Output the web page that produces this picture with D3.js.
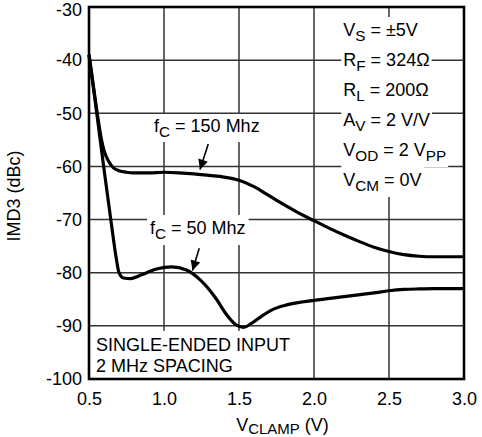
<!DOCTYPE html>
<html>
<head>
<meta charset="utf-8">
<script src="https://cdn.jsdelivr.net/npm/d3@7"></script>
<style>
  body { margin: 0; background: #fff; }
  text { font-family: "Liberation Sans", Arial, sans-serif; fill: #000; }
</style>
</head>
<body>
<div id="chart"></div>
<script>
const xTicks = [0.5, 1.0, 1.5, 2.0, 2.5, 3.0];
const yTicks = [-100, -90, -80, -70, -60, -50, -40, -30];

// fc = 150 MHz
const vclamp150 = [0.5, 0.53, 0.56, 0.58, 0.6, 0.63, 0.66, 0.7, 0.75, 0.8, 0.9, 1.0, 1.1, 1.2, 1.3, 1.4, 1.5, 1.6, 1.7, 1.8, 1.9, 2.0, 2.1, 2.2, 2.3, 2.4, 2.5, 2.6, 2.7, 2.8, 3.0];
const imd150 = [-39, -45, -51, -54.5, -57, -59, -60.2, -60.8, -61.1, -61.2, -61.2, -61.1, -61.2, -61.4, -61.7, -62, -62.6, -63.8, -65.5, -67.2, -68.8, -70.2, -71.6, -72.9, -74.1, -75.2, -76, -76.6, -76.9, -77, -77];

// fc = 50 MHz
const vclamp50 = [0.5, 0.55, 0.6, 0.65, 0.68, 0.7, 0.73, 0.78, 0.85, 0.95, 1.05, 1.15, 1.25, 1.35, 1.42, 1.48, 1.53, 1.58, 1.65, 1.72, 1.8, 1.9, 2.0, 2.2, 2.4, 2.5, 2.6, 2.7, 2.8, 3.0];
const imd50 = [-39, -49.6, -60.5, -71, -77, -80, -81, -81.1, -80.4, -79.3, -78.9, -79.5, -81.6, -85, -88, -89.8, -90.3, -89.6, -88.2, -87, -86.2, -85.6, -85.2, -84.5, -83.8, -83.4, -83.15, -83.05, -83, -83];

const conditions = [
  [["V", ""], ["S", "sub"], [" = ±5V", ""]],
  [["R", ""], ["F", "sub"], [" = 324Ω", ""]],
  [["R", ""], ["L", "sub"], [" = 200Ω", ""]],
  [["A", ""], ["V", "sub"], [" = 2 V/V", ""]],
  [["V", ""], ["OD", "sub"], [" = 2 V", ""], ["PP", "sub"]],
  [["V", ""], ["CM", "sub"], [" = 0V", ""]]
];

const FS = 18;

const W = 482, H = 437;
const margin = { top: 7, right: 18, bottom: 58, left: 89 };
const width = W - margin.left - margin.right,
      height = H - margin.top - margin.bottom;

const svg = d3.select("#chart").append("svg")
    .attr("width", W)
    .attr("height", H);

const g = svg.append("g")
    .attr("transform", `translate(${margin.left},${margin.top})`);

const x = d3.scaleLinear().domain([0.5, 3.0]).range([0, width]);
const y = d3.scaleLinear().domain([-100, -30]).range([height, 0]);

// grid
g.append("g").selectAll("line")
    .data(xTicks.slice(1, -1))
    .enter().append("line")
    .attr("x1", d => x(d)).attr("x2", d => x(d))
    .attr("y1", 0).attr("y2", height)
    .attr("stroke", "#333").attr("stroke-width", 1.5);

g.append("g").selectAll("line")
    .data(yTicks.slice(1, -1))
    .enter().append("line")
    .attr("x1", 0).attr("x2", width)
    .attr("y1", d => y(d)).attr("y2", d => y(d))
    .attr("stroke", "#333").attr("stroke-width", 1.5);

// tick labels
const xAxis = g.append("g")
    .attr("transform", `translate(0,${height})`)
    .call(d3.axisBottom(x).tickValues(xTicks).tickFormat(d3.format(".1f")).tickSize(0).tickPadding(13));
xAxis.select(".domain").remove();
xAxis.selectAll("text").style("font-size", FS + "px").attr("fill", "#000");

const yAxis = g.append("g")
    .call(d3.axisLeft(y).tickValues(yTicks).tickFormat(d => String(d)).tickSize(0).tickPadding(7));
yAxis.select(".domain").remove();
yAxis.selectAll("text").style("font-size", FS + "px").attr("fill", "#000");
// keep the top label inside the page
yAxis.selectAll(".tick").filter(d => d === -30).select("text").attr("y", 3);

function richText(parent, parts, px, py, size) {
  const t = parent.append("text")
      .attr("x", px).attr("y", py)
      .style("font-size", size + "px");
  let shifted = false;
  parts.forEach(p => {
    const s = t.append("tspan").text(p[0]);
    if (p[1] === "sub") {
      s.style("font-size", (size * 0.85) + "px").attr("dy", shifted ? 0 : 5);
      shifted = true;
    } else {
      s.attr("dy", shifted ? -5 : 0);
      shifted = false;
    }
  });
  return t;
}

function boxed(parent, parts, px, py, size, pad) {
  const grp = parent.append("g");
  const rect = grp.append("rect").attr("fill", "#fff");
  const t = richText(grp, parts, px, py, size);
  const b = t.node().getBBox();
  rect.attr("x", b.x - pad[0]).attr("y", b.y - pad[1])
      .attr("width", b.width + 2 * pad[0]).attr("height", b.height + 2 * pad[1]);
  return grp;
}

// curves
const line = d3.line().x(d => x(d[0])).y(d => y(d[1])).curve(d3.curveMonotoneX);

g.append("path")
    .datum(vclamp150.map((v, i) => [v, imd150[i]]))
    .attr("d", line)
    .attr("fill", "none").attr("stroke", "#000").attr("stroke-width", 3.2);

g.append("path")
    .datum(vclamp50.map((v, i) => [v, imd50[i]]))
    .attr("d", line)
    .attr("fill", "none").attr("stroke", "#000").attr("stroke-width", 3.2);

// conditions box
conditions.forEach((parts, i) => {
  boxed(g, parts, x(2.195), 29 + i * 30, FS, [2, 3]);
});

// curve labels
boxed(g, [["f", ""], ["C", "sub"], [" = 150 Mhz", ""]], x(1.0) - 10, 125, FS, [3, 2]);
boxed(g, [["f", ""], ["C", "sub"], [" = 50 Mhz", ""]], x(1.0) - 14, 227, FS, [3, 3]);

// arrows
svg.append("defs").append("marker")
    .attr("id", "ah").attr("viewBox", "0 0 10 10")
    .attr("refX", 10).attr("refY", 5)
    .attr("markerWidth", 13).attr("markerHeight", 10)
    .attr("markerUnits", "userSpaceOnUse")
    .attr("orient", "auto")
  .append("path").attr("d", "M0,0 L10,5 L0,10 z").attr("fill", "#000");

const arrows = [
  [[1.295, -55.8], [1.24, -60.6]],
  [[1.235, -75.4], [1.19, -79.6]]
];
arrows.forEach(a => {
  g.append("line")
      .attr("x1", x(a[0][0])).attr("y1", y(a[0][1]))
      .attr("x2", x(a[1][0])).attr("y2", y(a[1][1]))
      .attr("stroke", "#000").attr("stroke-width", 1.6)
      .attr("marker-end", "url(#ah)");
});

// note box
const note = g.append("g");
note.append("rect").attr("fill", "#fff")
    .attr("x", 2).attr("y", y(-90) + 5)
    .attr("width", x(1.95) - 2).attr("height", height - y(-90) - 6);
note.append("text").attr("x", 7).attr("y", y(-90) + 25)
    .style("font-size", FS + "px").text("SINGLE-ENDED INPUT");
note.append("text").attr("x", 7).attr("y", y(-90) + 46)
    .style("font-size", FS + "px").text("2 MHz SPACING");

// frame
g.append("rect")
    .attr("width", width).attr("height", height)
    .attr("fill", "none").attr("stroke", "#000").attr("stroke-width", 2.6);

// axis titles
const xt = svg.append("text")
    .attr("x", margin.left + width / 2 + 6).attr("y", 431)
    .attr("text-anchor", "middle")
    .style("font-size", FS + "px");
xt.append("tspan").text("V");
xt.append("tspan").text("CLAMP").style("font-size", "15px").attr("dy", 3);
xt.append("tspan").text(" (V)").attr("dy", -3);

svg.append("text")
    .attr("transform", `translate(20,${margin.top + height / 2 + 3}) rotate(-90)`)
    .attr("text-anchor", "middle")
    .style("font-size", FS + "px")
    .text("IMD3 (dBc)");
</script>
</body>
</html>
